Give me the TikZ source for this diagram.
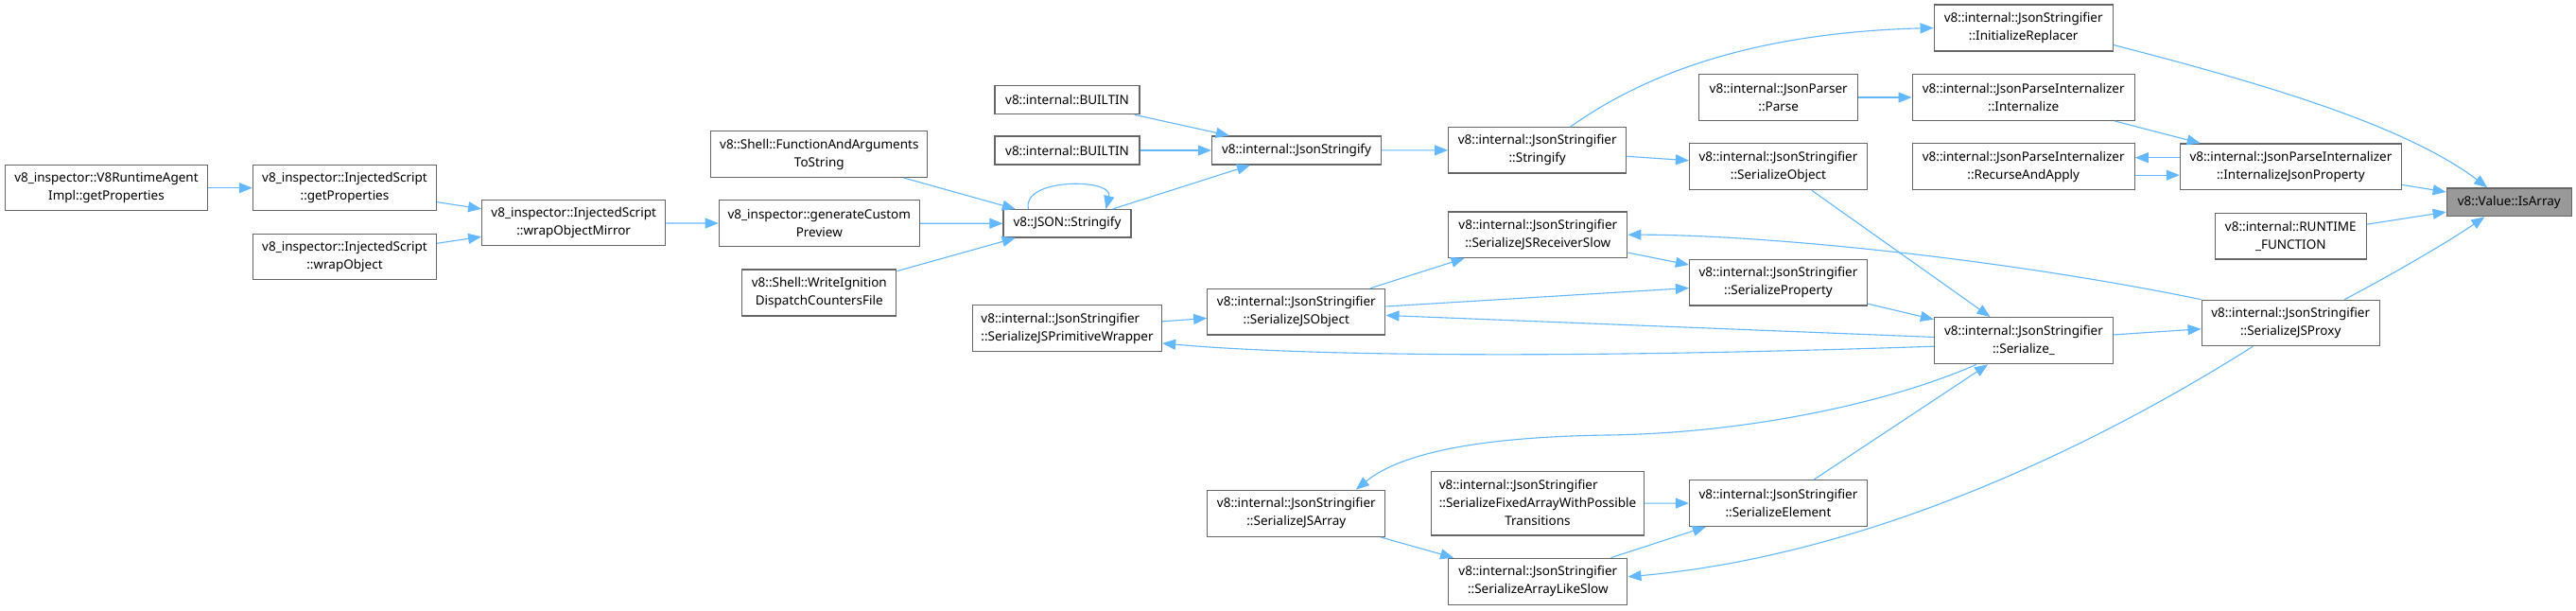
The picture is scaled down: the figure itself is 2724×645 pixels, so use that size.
\documentclass[tikz,border=0pt]{standalone}
\usepackage{fontspec}
\setmainfont{Noto Sans}
\usetikzlibrary{arrows.meta}
\definecolor{edgecol}{HTML}{63B8FF}
\definecolor{boxborder}{HTML}{666666}
\definecolor{rootfill}{HTML}{999999}
\tikzset{
  fn/.style={draw=boxborder, line width=1.3pt, fill=white, inner sep=0pt, align=center,
    font=\fontsize{13.5}{19}\selectfont, text=black},
  call/.style={draw=edgecol, line width=1.1pt, -{Triangle[length=14pt,width=11pt]}},
}
\newcommand{\jss}{v8::internal::JsonStringifier}
\newcommand{\jpi}{v8::internal::JsonParseInternalizer}
\begin{document}
\begin{tikzpicture}[x=1pt,y=-1pt]
\useasboundingbox (0,0) rectangle (2724,645);
\fill[white] (0,0) rectangle (2724,645);

% nodes
\node[fn, minimum width=214pt, minimum height=48pt] (v8ra) at (112.5,198.7) {v8\_inspector::V8RuntimeAgent\\Impl::getProperties};
\node[fn, minimum width=194pt, minimum height=48pt] (isgp) at (364.5,198.7) {v8\_inspector::InjectedScript\\::getProperties};
\node[fn, minimum width=194pt, minimum height=48pt] (iswo) at (364.5,271.8) {v8\_inspector::InjectedScript\\::wrapObject};
\node[fn, minimum width=194pt, minimum height=48pt] (wom) at (606.7,235.8) {v8\_inspector::InjectedScript\\::wrapObjectMirror};
\node[fn, minimum width=229pt, minimum height=48.6pt] (faats) at (866.3,163) {v8::Shell::FunctionAndArguments\\ToString};
\node[fn, minimum width=212pt, minimum height=49pt] (gcp) at (866.3,236.2) {v8\_inspector::generateCustom\\Preview};
\node[fn, minimum width=163pt, minimum height=49pt] (wig) at (866.3,309.5) {v8::Shell::WriteIgnition\\DispatchCountersFile};
\node[fn, minimum width=153pt, minimum height=30pt] (bi1) at (1128.5,105.7) {v8::internal::BUILTIN};
\node[fn, minimum width=153pt, minimum height=30pt] (bi2) at (1128.5,159) {v8::internal::BUILTIN};
\node[fn, minimum width=135pt, minimum height=29.3pt] (jsons) at (1128.5,236.3) {v8::JSON::Stringify};
\node[fn, minimum width=179pt, minimum height=30pt] (jsify) at (1371,159) {v8::internal::JsonStringify};
\node[fn, minimum width=200pt, minimum height=48.6pt] (sjspw) at (1128.5,347) {\begin{tabular}{@{}l@{}}\jss\\::SerializeJSPrimitiveWrapper\end{tabular}};
\node[fn, minimum width=188pt, minimum height=48.7pt] (sjso) at (1370.8,329.7) {\jss\\::SerializeJSObject};
\node[fn, minimum width=188pt, minimum height=49pt] (sjsa) at (1370.8,542.8) {\jss\\::SerializeJSArray};
\node[fn, minimum width=188pt, minimum height=48.3pt] (str) at (1625.7,158.8) {\jss\\::Stringify};
\node[fn, minimum width=189pt, minimum height=48.3pt] (sjsrs) at (1626.3,248.2) {\jss\\::SerializeJSReceiverSlow};
\node[fn, minimum width=225pt, minimum height=67.7pt] (sfa) at (1626,532.2) {\begin{tabular}{@{}l@{}}\jss\\::SerializeFixedArrayWithPossible\\\multicolumn{1}{@{}c@{}}{Transitions}\end{tabular}};
\node[fn, minimum width=189pt, minimum height=49pt] (sals) at (1626.3,614.8) {\jss\\::SerializeArrayLikeSlow};
\node[fn, minimum width=168pt, minimum height=48.6pt] (parse) at (1880.7,103) {v8::internal::JsonParser\\::Parse};
\node[fn, minimum width=188pt, minimum height=49pt] (so) at (1880.5,176.2) {\jss\\::SerializeObject};
\node[fn, minimum width=188pt, minimum height=48.3pt] (sp) at (1880.5,298.8) {\jss\\::SerializeProperty};
\node[fn, minimum width=188pt, minimum height=48.6pt] (se) at (1880.5,532) {\jss\\::SerializeElement};
\node[fn, minimum width=189pt, minimum height=49pt] (ir) at (2139.7,29.5) {\jss\\::InitializeReplacer};
\node[fn, minimum width=235pt, minimum height=48.6pt] (intz) at (2139.7,103) {\jpi\\::Internalize};
\node[fn, minimum width=235pt, minimum height=49pt] (raa) at (2139.7,176.2) {\jpi\\::RecurseAndApply};
\node[fn, minimum width=189pt, minimum height=49pt] (ser) at (2140,360.2) {\jss\\::Serialize\_};
\node[fn, minimum width=234pt, minimum height=48.3pt] (ijp) at (2422.4,176.2) {\jpi\\::InternalizeJsonProperty};
\node[fn, minimum width=160pt, minimum height=48.7pt] (rtf) at (2422.3,249.7) {v8::internal::RUNTIME\\\_FUNCTION};
\node[fn, minimum width=188pt, minimum height=48.4pt] (proxy) at (2422.2,341.5) {\jss\\::SerializeJSProxy};
\node[fn, fill=rootfill, minimum width=132pt, minimum height=29.7pt] (isarr) at (2653.3,213.8) {v8::Value::IsArray};

% edges
\draw[call] (v8ra) -- (isgp);
\draw[call] (isgp) -- (wom);
\draw[call] (iswo) -- (wom);
\draw[call] (wom) -- (gcp);
\draw[call] (faats) -- (jsons);
\draw[call] (gcp) -- (jsons);
\draw[call] (wig) -- (jsons);
\draw[call] ([xshift=-41pt]jsons.north) .. controls +(-8,-33) and +(8,-33) .. ([xshift=41pt]jsons.north);
\draw[call] (bi1) -- (jsify);
\draw[call] (bi2) -- (jsify);
\draw[call] (jsons) -- (jsify);
\draw[call] (jsify) -- (str);
\draw[call] ([xshift=35pt]str.north) .. controls (1730,85) and (1840,35) .. (ir.west);
\draw[call] (str) -- (so);
\draw[call] ([yshift=-18pt]ir.east) .. controls (2380,85) and (2540,130) .. ([xshift=-23pt]isarr.north);
\draw[call] (parse) -- (intz);
\draw[call] (intz) -- (ijp);
\draw[call] ([yshift=9.5pt]ijp.west) -- ([yshift=9.5pt]raa.east);
\draw[call] ([yshift=-9pt]raa.east) -- ([yshift=-9pt]ijp.west);
\draw[call] (ijp) -- (isarr);
\draw[call] (rtf) -- (isarr);
\draw[call] ([xshift=57pt]proxy.north) .. controls (2530,290) and (2590,255) .. ([xshift=-26pt]isarr.south);
\draw[call] (so) -- (ser);
\draw[call] (sjspw) -- (sjso);
\draw[call] (sjso) -- (sjsrs);
\draw[call] (sjso) -- (sp);
\draw[call] (sjsrs) -- (sp);
\draw[call] (sp) -- (ser);
\draw[call] (ser) -- (sjso);
\draw[call] ([yshift=-6pt]ser.west) .. controls (1700,378) and (1400,378) .. ([yshift=-16pt]sjspw.east);
\draw[call] (proxy.north west) .. controls (2100,270) and (1850,248) .. (sjsrs.east);
\draw[call] (ser) -- (proxy);
\draw[call] ([xshift=-50pt]ser.south) .. controls (2000,425) and (1850,458) .. (1700,460) .. controls (1560,462) and (1480,480) .. ([xshift=63pt]sjsa.north);
\draw[call] (sjsa) -- (sals);
\draw[call] (sfa) -- (se);
\draw[call] (sals) -- (se);
\draw[call] (se) -- (ser);
\draw[call] ([xshift=-40pt]proxy.south) .. controls (2250,450) and (2000,585) .. ([yshift=5pt]sals.east);
\end{tikzpicture}
\end{document}
